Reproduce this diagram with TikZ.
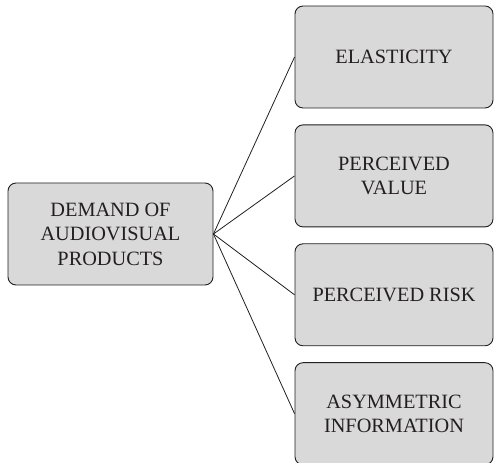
\documentclass[tikz,border=0pt]{standalone}
\usepackage{fontspec}
\setmainfont{Liberation Serif}
\usetikzlibrary{positioning}

\definecolor{boxgray}{RGB}{217,217,217}
\definecolor{inkgray}{RGB}{35,31,32}

\tikzset{
  factorbox/.style={draw=inkgray,fill=boxgray,line width=0.9pt,rounded corners=8pt,
    minimum width=198pt,minimum height=102pt,align=center,text=inkgray,
    font=\fontsize{20.3}{24.5}\selectfont},
  linkline/.style={draw=inkgray,line width=0.8pt}
}

\begin{document}
\begin{tikzpicture}[x=1pt,y=1pt]
\useasboundingbox (0,0) rectangle (494,462);
\node[factorbox,minimum width=205pt] (demand) at (110.5,228) {DEMAND OF\\AUDIOVISUAL\\PRODUCTS};

\node[factorbox] (elast) at (394,405) {ELASTICITY};
\node[factorbox,below=16pt of elast] (value) {PERCEIVED\\VALUE};
\node[factorbox,below=16pt of value] (risk) {PERCEIVED RISK};
\node[factorbox,below=16pt of risk] (asym) {ASYMMETRIC\\INFORMATION};

\foreach \f in {elast,value,risk,asym}
  \draw[linkline] (demand.east) -- (\f.west);

\end{tikzpicture}
\end{document}
